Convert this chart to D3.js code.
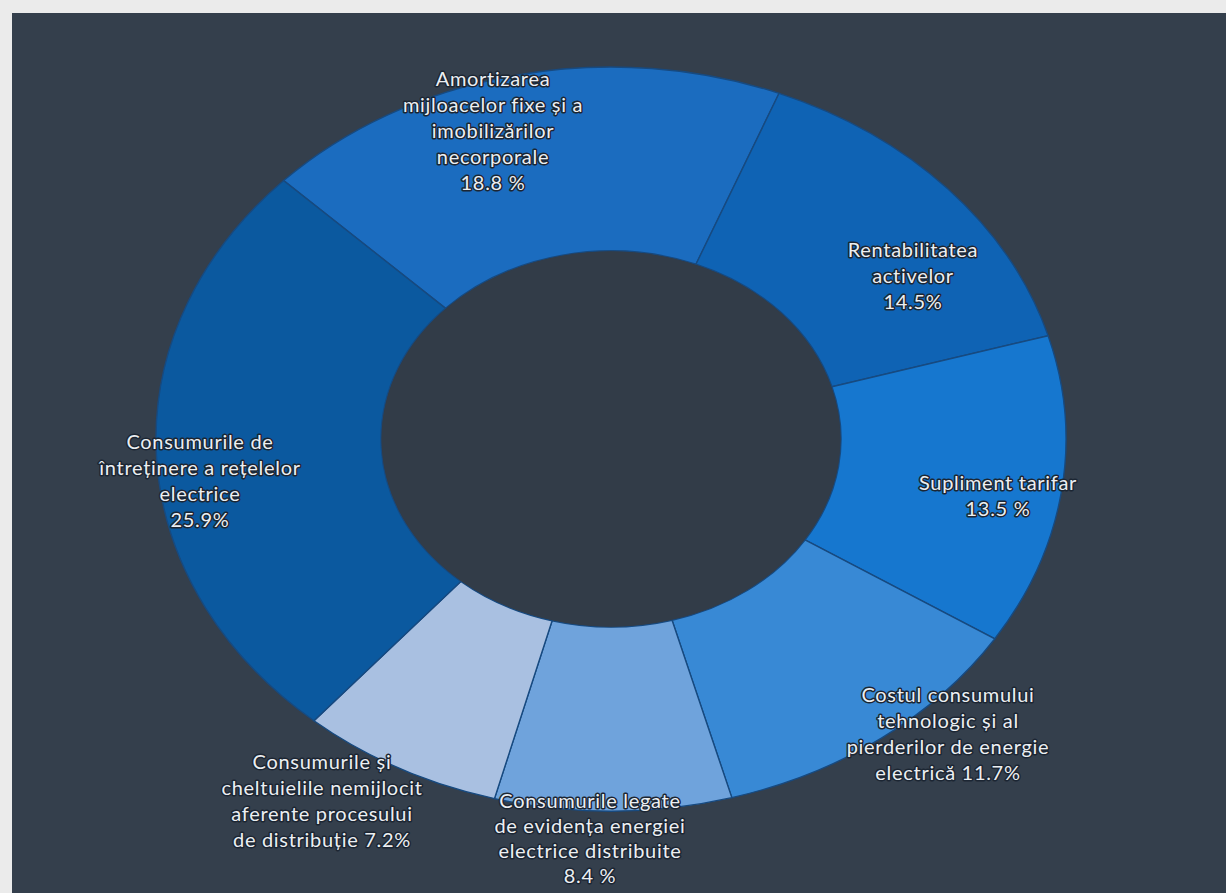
<!DOCTYPE html>
<html>
<head>
<meta charset="utf-8">
<script src="https://cdn.jsdelivr.net/npm/d3@7"></script>
<style>
  html, body { margin: 0; padding: 0; background: #ebebeb; }
  svg { display: block; }
  .lbl { font-family: Lato, "Open Sans", sans-serif; font-size: 20px; letter-spacing: 0.7px; fill: #eceff2;
         paint-order: stroke; stroke: #1c2633; stroke-width: 3px; stroke-linejoin: round; }
</style>
</head>
<body>
<script>
// ---- data ----
const categories = [
  "Amortizarea mijloacelor fixe și a imobilizărilor necorporale",
  "Rentabilitatea activelor",
  "Supliment tarifar",
  "Costul consumului tehnologic și al pierderilor de energie electrică",
  "Consumurile legate de evidența energiei electrice distribuite",
  "Consumurile și cheltuielile nemijlocit aferente procesului de distribuție",
  "Consumurile de întreținere a rețelelor electrice"
];
const values = [18.8, 14.5, 13.5, 11.7, 8.4, 7.2, 25.9];
const labelLines = [
  ["Amortizarea", "mijloacelor fixe și a", "imobilizărilor", "necorporale"],
  ["Rentabilitatea", "activelor"],
  ["Supliment tarifar"],
  ["Costul consumului", "tehnologic și al", "pierderilor de energie", "electrică"],
  ["Consumurile legate", "de evidența energiei", "electrice distribuite"],
  ["Consumurile și", "cheltuielile nemijlocit", "aferente procesului", "de distribuție"],
  ["Consumurile de", "întreținere a rețelelor", "electrice"]
];
const valueFormats = [" %", "%", " %", "%", " %", "%", "%"];
const valueOnSameLine = [false, false, false, true, false, true, false];

// ---- layout / style (not data) ----
const W = 1226, H = 893;
const colors = ["#1b6cbf", "#0f63b4", "#1677cf", "#3889d5", "#6fa3dc", "#a9c0e1", "#0b599f"];
const cx = 611, cy = 439, rx = 455, ry = 372, innerRx = 230;
const labelAnchors = [ // label block centre x, first-baseline y, line height
  [493, 86, 26], [913, 257, 26], [998, 490, 26], [948, 702, 26], [590, 808, 25], [322, 769, 26], [200, 449, 26]
];

const svg = d3.select("body").append("svg").attr("width", W).attr("height", H);
svg.append("rect").attr("x", 12).attr("y", 13).attr("width", W - 12).attr("height", H - 13).attr("fill", "#343f4c");

const pie = d3.pie().sort(null).value(d => d)
  .startAngle(-46 * Math.PI / 180).endAngle(-46 * Math.PI / 180 + 2 * Math.PI);
const arcs = pie(values);
const arc = d3.arc().innerRadius(innerRx).outerRadius(rx);

const g = svg.append("g").attr("transform", `translate(${cx},${cy}) scale(1,${ry / rx})`);
g.selectAll("path.slice").data(arcs).enter().append("path")
  .attr("class", "slice")
  .attr("d", arc)
  .attr("fill", (d, i) => colors[i])
  .attr("stroke", "#174a80")
  .attr("stroke-width", 1.4)
  .attr("vector-effect", "non-scaling-stroke");

// inner hole fill
g.append("circle").attr("r", innerRx - 0.5).attr("fill", "#323c48");

// labels
arcs.forEach((a, i) => {
  const lines = labelLines[i].slice();
  const v = values[i].toFixed(1) + valueFormats[i];
  if (valueOnSameLine[i]) lines[lines.length - 1] += " " + v; else lines.push(v);
  const [lx, ly, lh] = labelAnchors[i];
  const t = svg.append("text").attr("class", "lbl").attr("text-anchor", "middle")
    .attr("x", lx).attr("y", ly);
  lines.forEach((ln, k) => {
    t.append("tspan").attr("x", lx).attr("dy", k === 0 ? 0 : lh).text(ln);
  });
});
</script>
</body>
</html>
